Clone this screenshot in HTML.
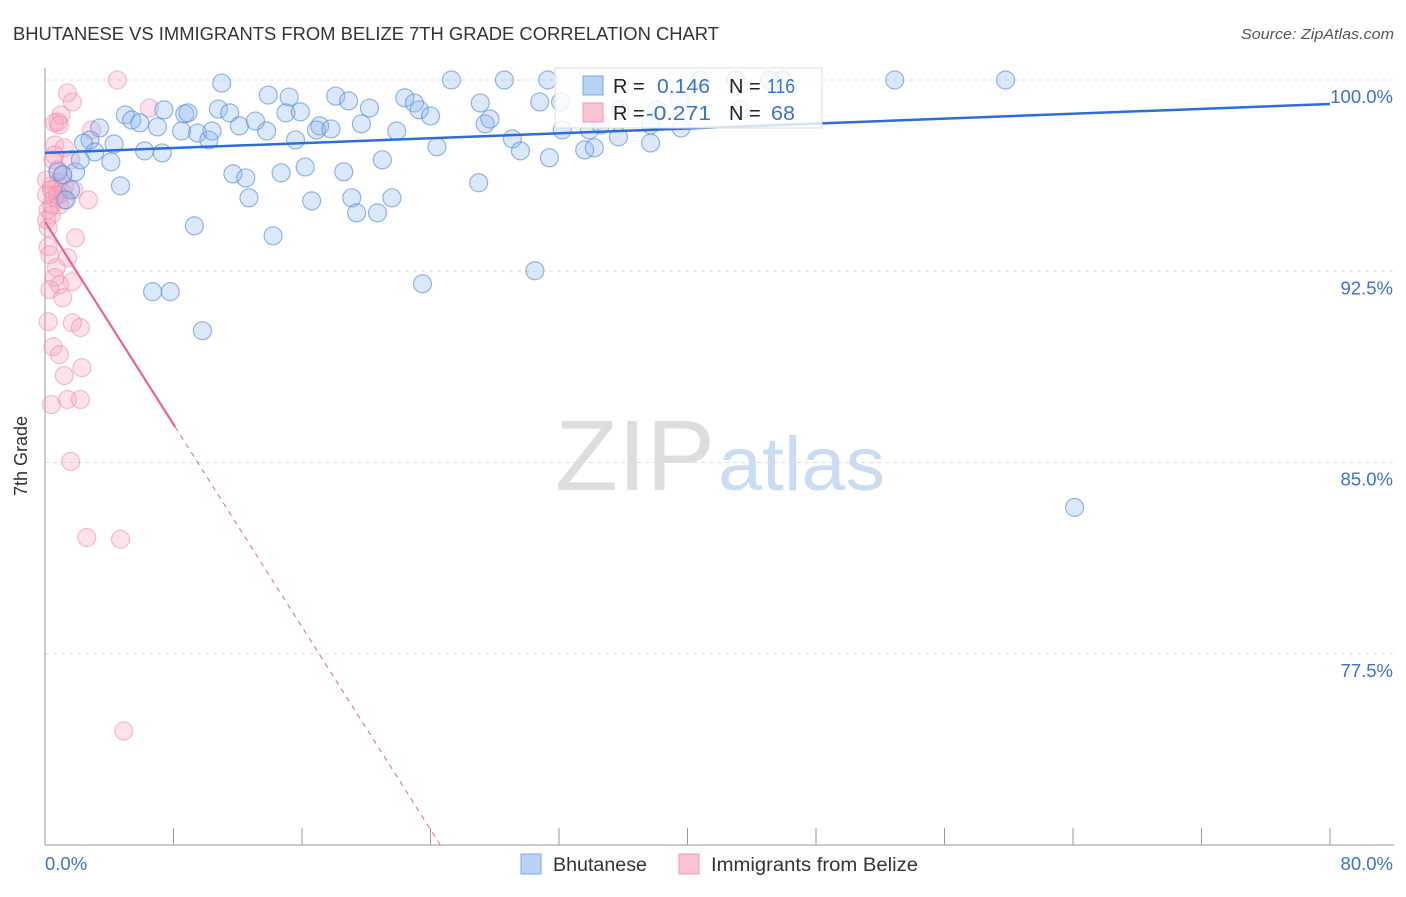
<!DOCTYPE html>
<html><head><meta charset="utf-8"><style>
body{margin:0;background:#fff;font-family:"Liberation Sans",sans-serif;}
svg text{font-family:"Liberation Sans",sans-serif;}
</style></head><body>
<svg id="chart" width="1406" height="892" viewBox="0 0 1406 892" xmlns="http://www.w3.org/2000/svg">
<text x="13" y="40" font-size="18" fill="#333" textLength="706" lengthAdjust="spacingAndGlyphs">BHUTANESE VS IMMIGRANTS FROM BELIZE 7TH GRADE CORRELATION CHART</text>
<text x="1241" y="39" font-size="15" fill="#555" font-style="italic" textLength="153" lengthAdjust="spacingAndGlyphs">Source: ZipAtlas.com</text>
<g id="grid"></g>
<g>
<text x="555" y="490" font-size="100" fill="#ddd" font-family="Liberation Serif" textLength="160" lengthAdjust="spacingAndGlyphs">ZIP</text>
<text x="718" y="490" font-size="76" fill="#c9dcf3" textLength="167" lengthAdjust="spacingAndGlyphs">atlas</text>
</g>
<g id="axes"></g>
<g id="pts"></g>
<g id="trends"></g>
<g>
<rect x="555" y="68" width="267" height="60" fill="#fff" fill-opacity="0.8" stroke="#ddd"/>
<rect x="583" y="76" width="20" height="19" fill="#b8d2f5" stroke="#7aa7e6"/>
<rect x="583" y="103" width="20" height="19" fill="#f9c3d2" stroke="#f09ab3"/>
<text x="613" y="93" font-size="20" fill="#222">R =</text>
<text x="657" y="93" font-size="20" fill="#3a72d0" textLength="53" lengthAdjust="spacingAndGlyphs">0.146</text>
<text x="729" y="93" font-size="20" fill="#222">N =</text>
<text x="767" y="93" font-size="20" fill="#3a72d0" textLength="28" lengthAdjust="spacingAndGlyphs">116</text>
<text x="613" y="120" font-size="20" fill="#222">R =</text>
<text x="646" y="120" font-size="20" fill="#3a72d0" textLength="65" lengthAdjust="spacingAndGlyphs">-0.271</text>
<text x="729" y="120" font-size="20" fill="#222">N =</text>
<text x="771" y="120" font-size="20" fill="#3a72d0" textLength="24" lengthAdjust="spacingAndGlyphs">68</text>
</g>
<g>
<rect x="521" y="854" width="20" height="20" fill="#b8d2f5" stroke="#7aa7e6"/>
<text x="553" y="871" font-size="19" fill="#333" textLength="94" lengthAdjust="spacingAndGlyphs">Bhutanese</text>
<rect x="679" y="854" width="20" height="20" fill="#f9c3d2" stroke="#f09ab3"/>
<text x="711" y="871" font-size="19" fill="#333" textLength="207" lengthAdjust="spacingAndGlyphs">Immigrants from Belize</text>
</g>
<text x="27" y="456" font-size="18" fill="#333" transform="rotate(-90 27 456)" text-anchor="middle">7th Grade</text>
</svg>
<script>
const yTicks=[100,92.5,85,77.5];
const yTickLabels=["100.0%","92.5%","85.0%","77.5%"];
const blueX=[11.0,25.3,28.6,31.3,52.9,59.8,43.0,45.9,45.1,5.0,5.4,5.9,7.0,7.4,8.7,8.9,10.8,11.5,12.1,13.1,13.9,13.8,15.2,15.0,15.9,15.6,17.1,16.9,17.8,18.1,18.9,19.7,20.2,21.9,22.4,23.0,23.3,24.0,24.4,27.1,27.4,27.7,29.1,29.6,30.8,31.4,32.2,33.6,34.2,35.7,37.7,38.1,39.5,32.1,33.9,34.6,35.8,37.7,39.6,3.4,2.8,2.4,3.1,4.3,6.2,7.3,8.5,9.5,10.2,10.4,1.9,0.8,1.1,2.2,4.1,4.7,1.6,1.3,11.7,12.5,12.7,14.7,16.2,16.6,18.6,19.1,19.4,20.7,21.6,21.0,9.3,14.2,27.0,6.7,7.8,9.8,23.5,30.5,64.1,40.8,43.3];
const blueY=[99.88,100,100,100,100,100,100,100,100,98.63,98.43,98.32,98.16,98.83,98.67,98.71,98.86,98.71,98.2,98.39,99.41,98.0,99.33,98.71,98.75,97.65,98.2,98.04,98.08,99.37,99.18,98.28,98.9,98.0,99.3,99.1,98.83,98.59,97.38,99.1,98.28,98.47,97.69,97.22,99.14,96.95,98.04,97.26,97.34,97.77,97.53,98.83,99.22,99.14,98.04,98.24,98.83,98.24,98.12,98.12,97.65,97.53,97.18,97.49,97.22,97.14,98.0,97.92,97.65,98.0,96.4,96.4,96.28,96.87,96.79,95.85,95.69,95.3,96.32,96.16,95.38,96.36,96.59,95.26,96.4,95.38,94.79,94.79,95.38,96.87,94.28,93.89,95.97,91.7,91.7,90.17,92.01,92.52,83.24,100,98.83];
const pinkX=[4.5,1.4,1.7,1.0,0.8,0.6,0.9,2.9,0.6,1.2,0.6,1.6,0.5,1.1,0.8,0.4,1.2,1.8,1.1,0.6,0.4,0.9,2.7,0.2,0.4,0.1,0.2,1.9,0.2,0.3,1.4,0.7,0.6,1.7,0.9,0.3,1.1,0.2,1.7,2.2,0.5,0.9,2.3,1.2,1.4,2.2,0.4,1.6,2.6,4.7,4.9,6.5,0.8,0.1,0.4,0.8,1.2,0.1];
const pinkY=[100,99.49,99.14,98.63,98.36,98.32,98.24,98.04,97.45,97.34,97.06,96.87,96.87,96.28,95.97,95.85,95.81,95.69,95.57,95.38,95.1,95.1,95.3,94.91,94.71,94.52,94.2,93.81,93.46,93.15,93.03,92.64,92.25,92.09,91.97,91.78,91.46,90.52,90.48,90.29,89.54,89.23,88.72,88.41,87.47,87.47,87.27,85.04,82.06,81.99,74.47,98.9,96.48,96.08,95.69,95.5,95.3,95.5];
const blueTrend=[97.14,0.024];
const pinkTrend=[94.44,-0.993];
const pinkSolidEnd=8.1;

const NS="http://www.w3.org/2000/svg";
const X0=45,X1=1330,Y0=80,Y1=845;
const xs=v=>X0+(v/80)*(X1-X0);
const ys=v=>Y0+(100-v)/30*(Y1-Y0);
function mk(tag,attrs,parent){const e=document.createElementNS(NS,tag);for(const k in attrs)e.setAttribute(k,attrs[k]);parent.appendChild(e);return e;}
const grid=document.getElementById('grid'),axes=document.getElementById('axes');
yTicks.forEach((t,i)=>{
  const l=mk('line',{x1:X0,x2:1394,y1:ys(t),y2:ys(t),stroke:'#ddd','stroke-dasharray':'4,4'},grid);
  
  
  const tx=mk('text',{x:1393,y:ys(t)+23,'font-size':18.5,fill:'#3a72d0','text-anchor':'end'},grid);
  tx.textContent=yTickLabels[i];
  
  
});
mk('line',{x1:X0,x2:X0,y1:68,y2:Y1,stroke:'#999'},axes);
mk('line',{x1:X0,x2:1394,y1:Y1,y2:Y1,stroke:'#999'},axes);
for(let i=0;i<=10;i++){
  const tk=mk('line',{x1:xs(i*8),x2:xs(i*8),y1:828,y2:Y1,stroke:'#999'},axes);
  
  
}
const xl0=mk('text',{x:45,y:870,'font-size':18.5,fill:'#3a72d0'},axes);xl0.textContent='0.0%';


const xl1=mk('text',{x:1393,y:870,'font-size':18.5,fill:'#3a72d0','text-anchor':'end'},axes);xl1.textContent='80.0%';


const pts=document.getElementById('pts');
pinkX.forEach((x,i)=>{
  const c=mk('circle',{cx:xs(x),cy:ys(pinkY[i]),r:9,fill:'rgba(248,160,188,0.3)',stroke:'rgba(240,140,170,0.55)','stroke-width':1.2},pts);
  
  
});
blueX.forEach((x,i)=>{
  const c=mk('circle',{cx:xs(x),cy:ys(blueY[i]),r:9,fill:'rgba(140,185,240,0.32)',stroke:'rgba(90,145,225,0.65)','stroke-width':1.2},pts);
  
  
});
const tr=document.getElementById('trends');
const bt=mk('line',{x1:xs(0),y1:ys(blueTrend[0]),x2:xs(80),y2:ys(blueTrend[0]+80*blueTrend[1]),stroke:'#2a6fd6','stroke-width':2.5},tr);


const pe=(70-pinkTrend[0])/pinkTrend[1];
const ps=mk('line',{x1:xs(0),y1:ys(pinkTrend[0]),x2:xs(pinkSolidEnd),y2:ys(pinkTrend[0]+pinkSolidEnd*pinkTrend[1]),stroke:'#e8648e','stroke-width':2.2},tr);


const pd=mk('line',{x1:xs(pinkSolidEnd),y1:ys(pinkTrend[0]+pinkSolidEnd*pinkTrend[1]),x2:xs(pe),y2:ys(70),stroke:'#e8648e','stroke-width':1,'stroke-dasharray':'5,5'},tr);


</script>
</body></html>
